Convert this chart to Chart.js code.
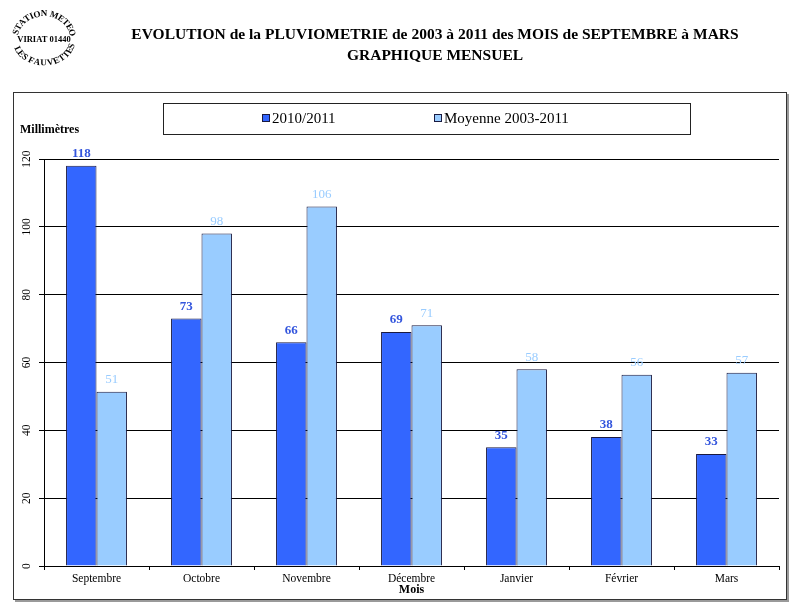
<!DOCTYPE html>
<html>
<head>
<meta charset="utf-8">
<script src="https://cdn.jsdelivr.net/npm/chart.js@4"></script>
<style>
  html, body { margin: 0; padding: 0; background: #fff; }
  #wrap { width: 800px; height: 614px; position: relative; }
</style>
</head>
<body>
<div id="wrap"><canvas id="pluvioChart" width="800" height="614"></canvas></div>
<script>
// Données
const mois = ['Septembre', 'Octobre', 'Novembre', 'Décembre', 'Janvier', 'Février', 'Mars'];
const pluie20102011 = [118, 73, 66, 69, 35, 38, 33];
const moyenne20032011 = [51.4, 98, 106, 71, 58, 56.4, 57];
const yTicks = [0, 20, 40, 60, 80, 100, 120];

const titre1 = 'EVOLUTION de la PLUVIOMETRIE de 2003 à 2011 des MOIS de SEPTEMBRE à MARS';
const titre2 = 'GRAPHIQUE MENSUEL';

const SERIF = '"Liberation Serif", "Times New Roman", serif';
const BLEU = '#3366FF';
const BLEU_CLAIR = '#99CCFF';

// textes en arc pour le tampon (espacement selon la largeur des lettres)
function arcText(ctx, text, cx, cy, rx, ry, startAng, endAng, top) {
    const widths = [...text].map(c => ctx.measureText(c).width);
    const total = widths.reduce((a, b) => a + b, 0);
    let acc = 0;
    for (let i = 0; i < text.length; i++) {
        const a = startAng + (endAng - startAng) * (acc + widths[i] / 2) / total;
        acc += widths[i];
        ctx.save();
        ctx.translate(cx + rx * Math.cos(a), cy + ry * Math.sin(a));
        ctx.rotate(top ? a + Math.PI / 2 : a - Math.PI / 2);
        ctx.fillText(text[i], 0, 0);
        ctx.restore();
    }
}

const decorPlugin = {
    id: 'decor',
    beforeDraw(chart) {
        const ctx = chart.ctx;
        ctx.save();
        ctx.fillStyle = '#fff';
        ctx.fillRect(0, 0, chart.width, chart.height);

        // cadre extérieur avec ombre
        ctx.fillStyle = '#9a9a9a';
        ctx.fillRect(15, 94, 774, 508);
        ctx.fillStyle = '#fff';
        ctx.fillRect(13, 92, 774, 508);
        ctx.strokeStyle = '#333';
        ctx.lineWidth = 1;
        ctx.strokeRect(13.5, 92.5, 773, 507);

        // titres
        ctx.fillStyle = '#000';
        ctx.font = 'bold 15.5px ' + SERIF;
        ctx.textAlign = 'center';
        ctx.textBaseline = 'middle';
        ctx.fillText(titre1, 435, 35);
        ctx.fillText(titre2, 435, 56);

        // tampon
        ctx.font = 'bold 8.5px ' + SERIF;
        ctx.fillText('VIRIAT 01440', 44, 40);
        ctx.font = 'bold 9px ' + SERIF;
        arcText(ctx, 'STATION METEO', 44, 40, 29, 26, Math.PI * 1.07, Math.PI * 1.95, true);
        arcText(ctx, 'LES FAUVETTES', 44, 40, 29, 23, Math.PI * 0.9, Math.PI * 0.06, false);

        // légende
        ctx.strokeStyle = '#222';
        ctx.strokeRect(163.5, 103.5, 527, 31);
        const ds = chart.data.datasets;
        const legendX = [262, 434];
        ctx.font = '15px ' + SERIF;
        ctx.textAlign = 'left';
        ds.forEach((d, i) => {
            ctx.fillStyle = d.backgroundColor;
            ctx.fillRect(legendX[i], 114, 8, 8);
            ctx.strokeStyle = '#1a1a40';
            ctx.strokeRect(legendX[i] + 0.5, 114.5, 7, 7);
            ctx.fillStyle = '#000';
            ctx.fillText(d.label, legendX[i] + 10, 119);
        });

        // titre axe Y
        ctx.font = 'bold 12px ' + SERIF;
        ctx.fillText('Millimètres', 20, 130);
        ctx.restore();
    },
    afterDraw(chart) {
        const ctx = chart.ctx;
        const yScale = chart.scales.y;
        ctx.save();
        // graduations Y verticales
        ctx.fillStyle = '#000';
        ctx.font = '11.5px ' + SERIF;
        ctx.textAlign = 'center';
        ctx.textBaseline = 'middle';
        yTicks.forEach(v => {
            ctx.save();
            ctx.translate(27, yScale.getPixelForValue(v));
            ctx.rotate(-Math.PI / 2);
            ctx.fillText(String(v), 0, 0);
            ctx.restore();
        });
        // titre axe X
        ctx.font = 'bold 12px ' + SERIF;
        ctx.fillText('Mois', (chart.chartArea.left + chart.chartArea.right) / 2, 590);

        // étiquettes de valeurs
        chart.data.datasets.forEach((d, i) => {
            const meta = chart.getDatasetMeta(i);
            ctx.font = (i === 0 ? 'bold ' : '') + '13px ' + SERIF;
            ctx.fillStyle = i === 0 ? '#3355DD' : '#99CCFF';
            ctx.textBaseline = 'middle';
            meta.data.forEach((bar, j) => {
                ctx.fillText(String(Math.round(d.data[j])), bar.x, bar.y - 12);
            });
        });
        ctx.restore();
    }
};

new Chart(document.getElementById('pluvioChart'), {
    type: 'bar',
    data: {
        labels: mois,
        datasets: [{
            label: '2010/2011',
            data: pluie20102011,
            backgroundColor: BLEU,
            borderColor: '#1a1a40',
            borderWidth: 1
        }, {
            label: 'Moyenne 2003-2011',
            data: moyenne20032011,
            backgroundColor: BLEU_CLAIR,
            borderColor: '#1a1a40',
            borderWidth: 1
        }]
    },
    options: {
        responsive: false,
        animation: false,
        layout: { padding: { left: 0, right: 21, top: 159, bottom: 0 } },
        plugins: {
            legend: { display: false },
            tooltip: { enabled: false }
        },
        datasets: {
            bar: { categoryPercentage: 0.58, barPercentage: 1.0 }
        },
        scales: {
            x: {
                grid: { display: true, drawOnChartArea: false, color: '#000', tickLength: 4, offset: true },
                border: { color: '#000' },
                ticks: { color: '#000', font: { family: SERIF, size: 11.5 }, padding: 2, maxRotation: 0 },
                afterFit: s => { s.height = 48; }
            },
            y: {
                min: 0,
                max: 120,
                ticks: { stepSize: 20, color: 'rgba(0,0,0,0)', font: { family: SERIF, size: 11 } },
                grid: { color: '#000', tickLength: 5 },
                border: { color: '#000' },
                afterFit: s => { s.width = 44; }
            }
        }
    },
    plugins: [decorPlugin]
});
</script>
</body>
</html>
